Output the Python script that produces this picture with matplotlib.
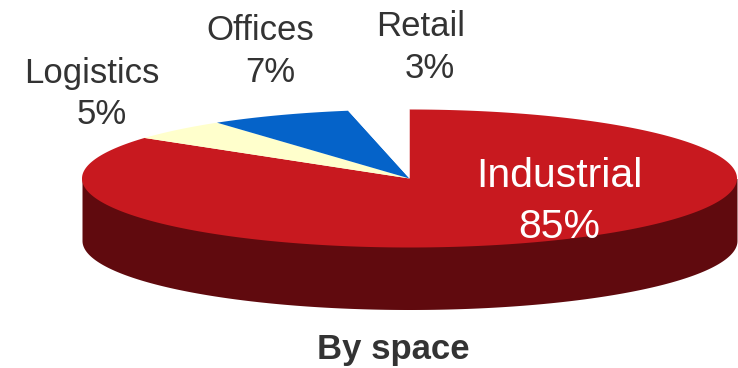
import numpy as np
import matplotlib
matplotlib.use("Agg")
import matplotlib.pyplot as plt

plt.rcParams["font.family"] = ["Liberation Sans", "DejaVu Sans"]

# Share of space by sector, clockwise from 12 o'clock
sectors = ["Industrial", "Logistics", "Offices", "Retail"]
shares = [85, 5, 7, 3]
top_colors = ["#C8191F", "#FFFFCC", "#0563C9", "#FFFFFF"]
side_color = "#600A0E"
text_color = "#333333"

W, H = 738, 368
cx, cy = 409.5, 178.5   # pie centre in pixels
rx, ry = 327.5, 69      # ellipse radii
depth = 62              # height of the side wall

# name position, value position, font size per label
name_pos = [(559, 176), (92, 73), (260, 31), (421, 27)]
value_pos = [(559, 227), (102, 115), (270, 73), (430, 69)]
label_size = [29.5, 25, 25, 25]
label_color = ["white", text_color, text_color, text_color]

fig = plt.figure(figsize=(W / 100, H / 100), dpi=100)
ax = fig.add_axes([0, 0, 1, 1])
ax.set_xlim(0, W)
ax.set_ylim(H, 0)
ax.axis("off")

# Side wall, only the front half of the ellipse shows
t = np.linspace(np.pi / 2, 3 * np.pi / 2, 300)
ax.fill_between(cx + rx * np.sin(t), cy, cy + depth - ry * np.cos(t),
                color=side_color, lw=0, zorder=1)

# Top surface
edges = np.cumsum([0] + shares) / sum(shares) * 2 * np.pi
for i in range(len(shares)):
    t = np.linspace(edges[i], edges[i + 1], 300)
    xs = np.r_[cx, cx + rx * np.sin(t)]
    ys = np.r_[cy, cy - ry * np.cos(t)]
    ax.fill(xs, ys, color=top_colors[i], lw=0, zorder=2)

# Labels
for i in range(len(sectors)):
    ax.text(*name_pos[i], sectors[i], color=label_color[i], fontsize=label_size[i],
            ha="center", va="center", zorder=3)
    ax.text(*value_pos[i], "{}%".format(shares[i]), color=label_color[i],
            fontsize=label_size[i], ha="center", va="center", zorder=3)

ax.text(393, 349, "By space", color=text_color, fontsize=25, fontweight="bold",
        ha="center", va="center", zorder=3)

fig.savefig("out.png", dpi=100)
